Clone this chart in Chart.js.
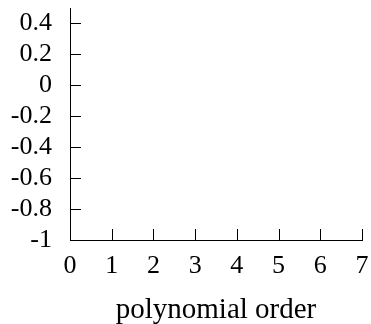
<!DOCTYPE html>
<html>
<head>
<meta charset="utf-8">
<script src="https://cdn.jsdelivr.net/npm/chart.js@4/dist/chart.umd.min.js"></script>
<style>
  html, body { margin: 0; padding: 0; background: #fff; }
  #wrap { width: 371px; height: 324px; }
</style>
</head>
<body>
<div id="wrap"><canvas id="chart"></canvas></div>
<script>
// Datos del gráfico (vacío, solo ejes)
const xTicks = [0, 1, 2, 3, 4, 5, 6, 7];
const yTicks = [-1, -0.8, -0.6, -0.4, -0.2, 0, 0.2, 0.4];
const xRange = [0, 7];
const yRange = [-1, 0.5];
const seriesPoints = [];
const xTitle = 'polynomial order';

const FONT = 'Liberation Serif';
const TICK_SIZE = 26;
const TITLE_SIZE = 29;

// Marcas de los ejes hacia dentro
const innerTicks = {
    id: 'innerTicks',
    afterDraw(chart) {
        const ctx = chart.ctx;
        const xs = chart.scales.x;
        const ys = chart.scales.y;
        const len = 11;
        ctx.save();
        ctx.strokeStyle = '#000';
        ctx.lineWidth = 1;
        ctx.beginPath();
        xTicks.forEach(v => {
            const px = Math.round(xs.getPixelForValue(v)) + 0.5;
            ctx.moveTo(px, ys.bottom);
            ctx.lineTo(px, ys.bottom - len);
        });
        yTicks.forEach(v => {
            const py = Math.round(ys.getPixelForValue(v)) + 0.5;
            ctx.moveTo(xs.left, py);
            ctx.lineTo(xs.left + len, py);
        });
        ctx.stroke();
        ctx.restore();
    }
};

const ctx = document.getElementById('chart').getContext('2d');
new Chart(ctx, {
    type: 'scatter',
    data: {
        datasets: [{ data: seriesPoints }]
    },
    options: {
        responsive: true,
        maintainAspectRatio: false,
        animation: false,
        layout: { padding: { top: 8, right: 9, left: 0, bottom: 0 } },
        plugins: { legend: { display: false }, tooltip: { enabled: false } },
        scales: {
            x: {
                type: 'linear',
                min: xRange[0],
                max: xRange[1],
                afterBuildTicks: s => { s.ticks = xTicks.map(v => ({ value: v })); },
                afterFit: s => {
                    s.height = 84;
                    s.paddingLeft = 0;
                    s.paddingRight = 0;
                },
                grid: { drawOnChartArea: false, drawTicks: false },
                border: { color: '#000', width: 1 },
                ticks: {
                    color: '#000',
                    padding: 11,
                    autoSkip: false,
                    maxRotation: 0,
                    font: { family: FONT, size: TICK_SIZE },
                    callback: v => String(v)
                },
                title: {
                    display: true,
                    text: xTitle,
                    color: '#000',
                    padding: { top: 0, bottom: -4 },
                    font: { family: FONT, size: TITLE_SIZE }
                }
            },
            y: {
                type: 'linear',
                min: yRange[0],
                max: yRange[1],
                afterBuildTicks: s => { s.ticks = yTicks.map(v => ({ value: v })); },
                afterFit: s => {
                    s.width = 70;
                    s.paddingTop = 0;
                    s.paddingBottom = 0;
                },
                grid: { drawOnChartArea: false, drawTicks: false },
                border: { color: '#000', width: 1 },
                ticks: {
                    color: '#000',
                    padding: 18,
                    autoSkip: false,
                    font: { family: FONT, size: TICK_SIZE },
                    callback: v => String(v)
                }
            }
        }
    },
    plugins: [innerTicks]
});
</script>
</body>
</html>
